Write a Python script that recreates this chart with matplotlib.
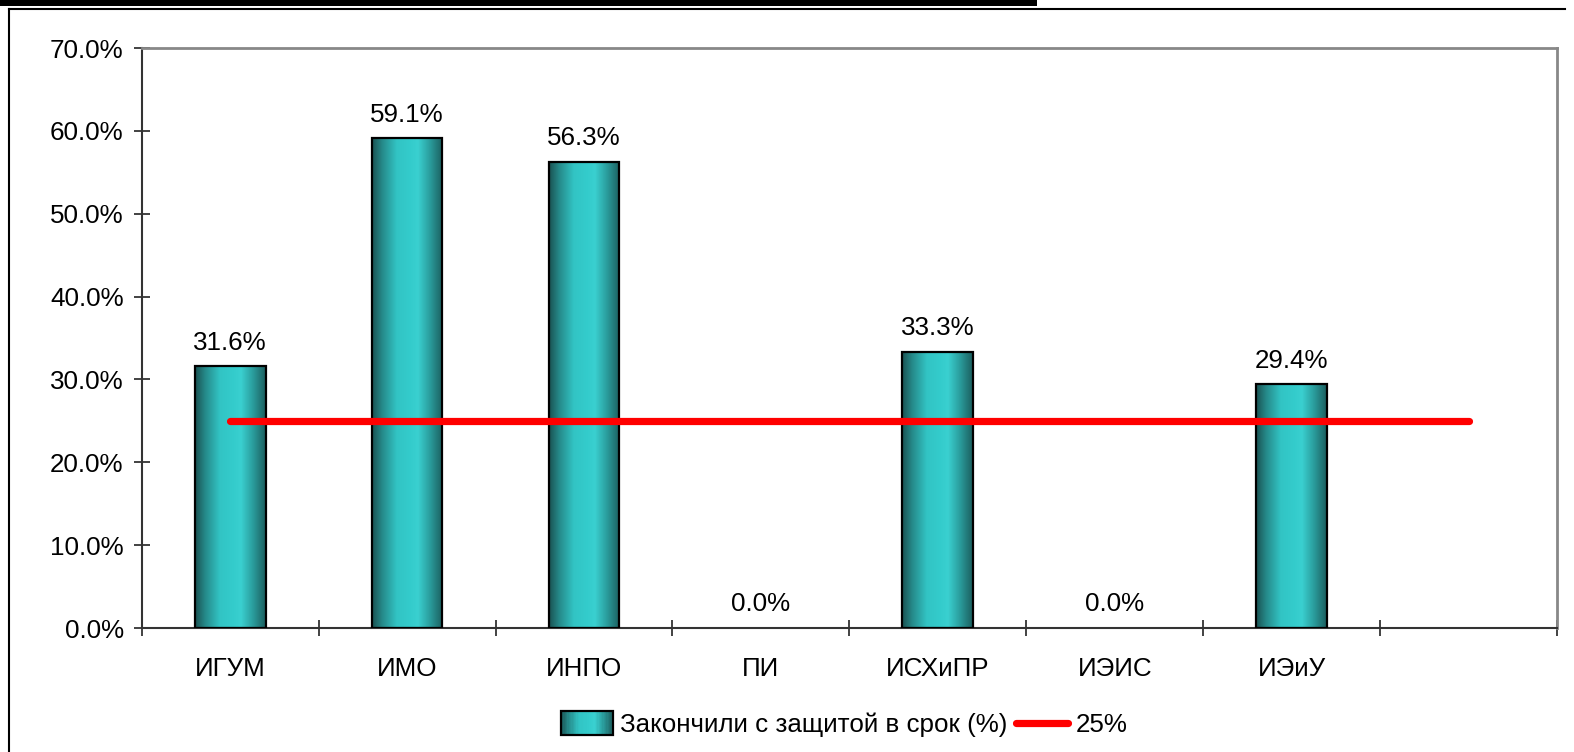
import numpy as np
import matplotlib
matplotlib.use("Agg")
import matplotlib.pyplot as plt
from matplotlib.colors import LinearSegmentedColormap
from matplotlib.patches import Rectangle
from matplotlib.lines import Line2D
from matplotlib.legend_handler import HandlerBase

plt.rcParams['font.family'] = ['Liberation Sans', 'DejaVu Sans']

categories = ['ИГУМ', 'ИМО', 'ИНПО', 'ПИ', 'ИСХиПР', 'ИЭИС', 'ИЭиУ', '']
values = [31.6, 59.1, 56.3, 0.0, 33.3, 0.0, 29.4]
target = [25.0] * 8
bar_label = 'Закончили с защитой в срок (%)'
line_label = '25%'

# cylinder-like shading of the bars
grad = LinearSegmentedColormap.from_list('cyl', [
    (0.00, '#1a5252'), (0.15, '#268c8c'), (0.35, '#32c4c4'),
    (0.55, '#34cccc'), (0.65, '#3ad0d0'), (0.82, '#2a9c9c'),
    (1.00, '#1c5e5e')])
strip = np.linspace(0, 1, 256).reshape(1, -1)

W, H = 1574, 752
fs = 18.7
fig = plt.figure(figsize=(W / 100, H / 100), dpi=100)
ax = fig.add_axes([141.7 / W, 1 - 628 / H, (1557 - 141.7) / W, (628 - 48) / H])

x = np.arange(len(categories))
bw = 0.4
for xi, v in zip(x, values):
    if v > 0:
        ax.imshow(strip, cmap=grad, aspect='auto', interpolation='bilinear',
                  extent=[xi - bw / 2, xi + bw / 2, 0, v], zorder=2)
        ax.bar(xi, v, width=bw, facecolor='none', edgecolor='black',
               linewidth=1.6, zorder=3)
ax.plot(x, target, color='red', linewidth=5.2, solid_capstyle='round', zorder=4)

for xi, v in zip(x, values):
    ax.annotate(f'{v:.1f}%', (xi, v), xytext=(0, 12), textcoords='offset points',
                ha='center', va='baseline', fontsize=fs)

ax.set_xlim(-0.5, len(categories) - 0.5)
ax.set_ylim(0, 70)
ax.set_yticks(np.arange(0, 71, 10))
ax.set_yticklabels([f'{t:.1f}%' for t in np.arange(0, 71, 10)])
ax.set_xticks(np.arange(-0.5, len(categories)), labels=[''] * (len(categories) + 1))
ax.set_xticks(x, labels=categories, minor=True)
ax.tick_params(axis='y', direction='inout', length=12, width=1.2, color='#222222',
               labelsize=fs, pad=7)
ax.tick_params(axis='x', which='major', direction='inout', length=12, width=1.2,
               color='#222222')
ax.tick_params(axis='x', which='minor', length=0, labelsize=fs, pad=21)

for s in ['left', 'bottom']:
    ax.spines[s].set_color('#333333')
    ax.spines[s].set_linewidth(1.5)
for s in ['top', 'right']:
    ax.spines[s].set_color('#888888')
    ax.spines[s].set_linewidth(2)


class GradientHandler(HandlerBase):
    def create_artists(self, legend, orig_handle, xdescent, ydescent,
                       width, height, fontsize, trans):
        arts = []
        n = 40
        for i in range(n):
            r = Rectangle((-xdescent + width * i / n, -ydescent - 2), width / n + 0.3,
                          height + 4, facecolor=grad((i + 0.5) / n),
                          edgecolor='none', transform=trans)
            arts.append(r)
        arts.append(Rectangle((-xdescent, -ydescent - 2), width, height + 4,
                              facecolor='none', edgecolor='black', linewidth=1.6,
                              transform=trans))
        return arts


bar_handle = Rectangle((0, 0), 1, 1)
line_handle = Line2D([], [], color='red', linewidth=5.2, solid_capstyle='round')
fig.legend([bar_handle, line_handle], [bar_label, line_label],
           handler_map={Rectangle: GradientHandler()},
           loc='center', bbox_to_anchor=(844 / W, 1 - 725 / H), ncol=2,
           frameon=False, fontsize=fs, handlelength=2.0, handletextpad=0.27,
           columnspacing=0.35, borderpad=0)

# outer frame and the black strip on top
fig.add_artist(Rectangle((0, 1 - 6 / H), 1037 / W, 6 / H, transform=fig.transFigure,
                         facecolor='black', edgecolor='none'))
fig.add_artist(Line2D([9 / W, 1565 / W], [1 - 9 / H, 1 - 9 / H],
                      transform=fig.transFigure, color='black', linewidth=1.5))
fig.add_artist(Line2D([9 / W, 9 / W], [1 - 9 / H, 0],
                      transform=fig.transFigure, color='black', linewidth=1.5))

fig.savefig('out.png', dpi=100)
